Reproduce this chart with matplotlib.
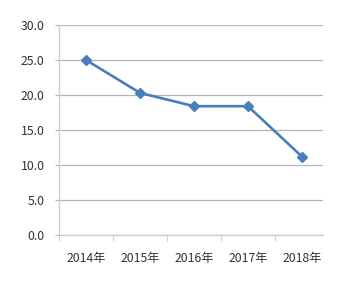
import matplotlib.pyplot as plt

plt.rcParams['font.family'] = ['Noto Sans CJK SC', 'DejaVu Sans']

# ---- Data ----
years = ['2014年', '2015年', '2016年', '2017年', '2018年']
values = [25.0, 20.3, 18.4, 18.4, 11.2]
y_ticks = [0, 5, 10, 15, 20, 25, 30]

fig = plt.figure(figsize=(3.5, 2.81), dpi=100)
ax = fig.add_axes([59 / 350, 1 - 235 / 281, 264 / 350, 210 / 281])

x = list(range(len(years)))
ax.plot(x, values, color='#4a7ebb', linewidth=1.9, marker='D', markersize=5,
        zorder=3, clip_on=False)

ax.set_yticks(y_ticks)
ax.set_yticklabels([f'{v:.1f}' for v in y_ticks])
ax.set_xticks(x)
ax.set_xticklabels(years)
ax.set_xticks([i - 0.5 for i in range(len(years))], minor=True)
ax.set_ylim(0, 30)
ax.set_xlim(-0.5, 4.39)

ax.grid(axis='y', color='#b4b4b4', linewidth=0.9)
ax.set_axisbelow(True)
for s in ['top', 'right']:
    ax.spines[s].set_visible(False)
for s in ['left', 'bottom']:
    ax.spines[s].set_color('#d0d0d0')
    ax.spines[s].set_linewidth(1.0)

ax.tick_params(axis='y', length=3, color='#b4b4b4', labelsize=8.8,
               labelcolor='#333333', pad=7.5)
ax.tick_params(axis='x', which='major', length=0, labelsize=8.8,
               labelcolor='#333333', pad=12)
ax.tick_params(axis='x', which='minor', length=4, color='#c8c8c8')

fig.savefig('out.png', dpi=100)
